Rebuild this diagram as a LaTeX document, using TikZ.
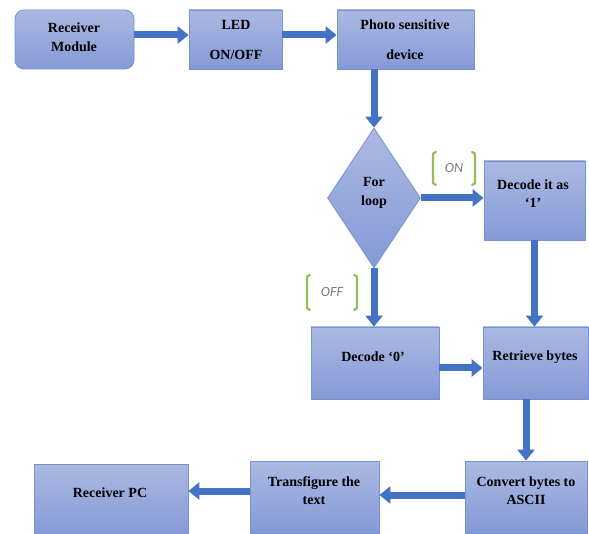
\documentclass[tikz,border=0pt]{standalone}
\usepackage{fontspec}
\setmainfont{Liberation Serif}
\newfontfamily\calib{Carlito}
\usetikzlibrary{arrows.meta,shapes.geometric,calc}
\definecolor{boxtop}{HTML}{ABB9E2}
\definecolor{boxbot}{HTML}{8599D6}
\definecolor{boxline}{HTML}{7393D3}
\definecolor{arrblue}{HTML}{4472C4}
\definecolor{brgreen}{HTML}{9BBB59}
\definecolor{lblgray}{HTML}{7A7A7A}
\begin{document}
\begin{tikzpicture}[x=1pt,y=-1pt,
  blk/.style={draw=boxline,line width=0.8pt,top color=boxtop,bottom color=boxbot,rectangle,inner sep=0pt},
  rblk/.style={blk,rounded corners=9pt},
  dia/.style={draw=boxline,line width=0.8pt,top color=boxtop,bottom color=boxbot,diamond,inner sep=0pt},
  txt/.style={font=\fontsize{14}{19}\selectfont\bfseries,align=center,inner sep=0pt},
  arr/.style={draw=arrblue,line width=7pt,-{Triangle[length=11pt,width=17pt]}},
  brk/.style={draw=brgreen,line width=2.2pt,line cap=round},
  lbl/.style={font=\calib\itshape\fontsize{14}{16}\selectfont,text=lblgray,inner sep=0pt}]
\useasboundingbox (0,0) rectangle (589,534);
% boxes
\node[rblk,minimum width=119pt,minimum height=59pt] (rm) at (74.5,39.5) {};
\node[blk,minimum width=93pt,minimum height=59pt] (led) at (235.5,39.5) {};
\node[blk,minimum width=137pt,minimum height=59pt] (ps) at (405.5,39.5) {};
\node[dia,minimum width=93pt,minimum height=140pt] (fl) at (374,198) {};
\node[blk,minimum width=101pt,minimum height=79pt] (d1) at (534.5,200.5) {};
\node[blk,minimum width=128pt,minimum height=72pt] (d0) at (375,363) {};
\node[blk,minimum width=105pt,minimum height=72pt] (rb) at (535.5,363) {};
\node[blk,minimum width=122pt,minimum height=72pt] (cv) at (526,497) {};
\node[blk,minimum width=129pt,minimum height=72pt] (tf) at (314.5,497) {};
\node[blk,minimum width=154pt,minimum height=70pt] (pc) at (111,499) {};
% texts
\node[txt] (trm) at (74,37) {Receiver\\Module};
\node[txt,font=\fontsize{14}{30}\selectfont\bfseries] (tled) at (236,40) {LED\\ON/OFF};
\node[txt,font=\fontsize{14}{30}\selectfont\bfseries] (tps) at (405,40) {Photo sensitive\\device};
\node[txt] (tfl) at (374,193) {For\\loop};
\node[txt,font=\fontsize{14}{18}\selectfont\bfseries] (td1) at (533,194) {Decode it as\\‘1’};
\node[txt] (td0) at (373,357) {Decode ‘0’};
\node[txt] (trb) at (535,357) {Retrieve bytes};
\node[txt,font=\fontsize{14}{18}\selectfont\bfseries] (tcv) at (526,491) {Convert bytes to\\ASCII};
\node[txt,font=\fontsize{14}{18}\selectfont\bfseries] (ttf) at (314,491) {Transfigure the\\text};
\node[txt] (tpc) at (110,493) {Receiver PC};
% labels
\node[lbl] (on) at (454,168) {ON};
\node[lbl] (off) at (332,292) {OFF};
\draw[brk] (436,152) .. controls (433,153) .. (433,157) -- (433,180) .. controls (433,184) .. (436,185);
\draw[brk] (472,152) .. controls (475,153) .. (475,157) -- (475,180) .. controls (475,184) .. (472,185);
\draw[brk] (310,275) .. controls (307,276) .. (307,280) -- (307,305) .. controls (307,309) .. (310,310);
\draw[brk] (354,275) .. controls (357,276) .. (357,280) -- (357,305) .. controls (357,309) .. (354,310);
% arrows
\draw[arr] ([yshift=4.5pt]rm.east) -- ([yshift=4.5pt]led.west);
\draw[arr] ([yshift=4.5pt]led.east) -- ([yshift=4.5pt]ps.west);
\draw[arr] (ps.south -| fl.north) -- (fl.north);
\draw[arr] (fl.east) -- (fl.east -| d1.west);
\draw[arr] (d1.south) -- (d1.south |- rb.north);
\draw[arr] (fl.south) -- (fl.south |- d0.north);
\draw[arr] ([yshift=-5pt]d0.east) -- ([yshift=-5pt]rb.west);
\draw[arr] (rb.south -| cv.north) -- (cv.north);
\draw[arr] ([yshift=2pt]cv.west) -- ([yshift=2pt]tf.east);
\draw[arr] ([yshift=6pt]tf.west) -- ([yshift=6pt]tf.west -| pc.east);
\end{tikzpicture}
\end{document}
